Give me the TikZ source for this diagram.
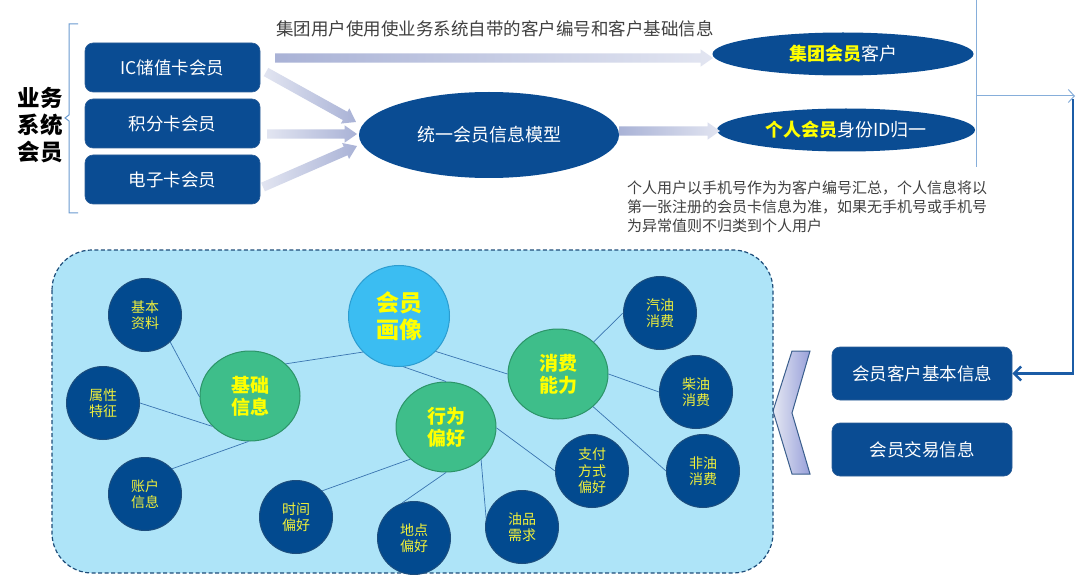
\documentclass[tikz,border=0pt]{standalone}
\usepackage{fontspec}
\setmainfont{Noto Sans CJK SC}
\usetikzlibrary{shapes.geometric,shapes.arrows,calc,arrows.meta}
\definecolor{boxblue}{HTML}{0A4C93}
\definecolor{boxedge}{HTML}{2D5E98}
\definecolor{circblue}{HTML}{024A8F}
\definecolor{circedge}{HTML}{1D4E7E}
\definecolor{skyfill}{HTML}{AEE4F8}
\definecolor{skyedge}{HTML}{1E4D7A}
\definecolor{bigcirc}{HTML}{3BBDF2}
\definecolor{bigcircedge}{HTML}{2C9DD0}
\definecolor{greenc}{HTML}{3EBE8A}
\definecolor{greenedge}{HTML}{2C9468}
\definecolor{ylw}{HTML}{FFFF00}
\definecolor{ylwsoft}{HTML}{F0F03A}
\definecolor{linkblue}{HTML}{3A74B0}
\definecolor{thinblue}{HTML}{86AEDA}
\definecolor{thickblue}{HTML}{1B5CA6}
\definecolor{bracecol}{HTML}{6A9BD0}
\definecolor{lavdark}{HTML}{A9B2D6}
\definecolor{lavlight}{HTML}{E2E5F1}
\definecolor{graytext}{HTML}{404040}
\definecolor{chevedge}{HTML}{3A5E8C}
\newcommand\myblockarrow[4]{%
  \path let \p1=($(#2)-(#1)$), \n1={atan2(\y1,\x1)}, \n2={veclen(\x1,\y1)} in
    (#1) node[blockarr, rotate=\n1, minimum height=\n2, anchor=tail, left color=#3, right color=#4] {};}
\begin{document}
\begin{tikzpicture}[x=1pt,y=-1pt,
  memberbox/.style={draw=boxedge, line width=0.6pt, fill=boxblue, rounded corners=8pt,
    minimum width=175pt, minimum height=49pt, inner sep=0pt, text=white,
    font=\fontsize{17.5}{20}\selectfont},
  infobox/.style={memberbox, minimum width=180pt, minimum height=53pt},
  blueell/.style={ellipse, fill=boxblue, draw=none, inner sep=0pt, text=white,
    font=\fontsize{18}{21}\selectfont},
  blockarr/.style={single arrow, draw=none, inner sep=4.5pt, outer sep=0pt,
    single arrow head extend=4pt, single arrow tip angle=70, minimum width=0pt},
  smallc/.style={circle, fill=circblue, draw=circedge, line width=1pt, minimum size=73pt,
    inner sep=0pt, align=center, text=ylwsoft, font=\fontsize{14}{16.5}\selectfont},
  greenell/.style={ellipse, fill=greenc, draw=greenedge, line width=1pt, minimum width=100pt,
    minimum height=90pt, inner sep=0pt, align=center, text=ylw,
    font=\bfseries\fontsize{19}{22}\selectfont},
  bigcircle/.style={circle, fill=bigcirc, draw=bigcircedge, line width=1pt, minimum size=101pt,
    inner sep=0pt, align=center, text=ylw, font=\bfseries\fontsize{23}{27}\selectfont},
  link/.style={draw=linkblue, line width=0.7pt},
  thinline/.style={draw=thinblue, line width=1pt},
  thickline/.style={draw=thickblue, line width=2.6pt}
]
\useasboundingbox (0,0) rectangle (1080,575);
\fill[white] (0,0) rectangle (1080,575);

% left label and brace
\node[font=\bfseries\fontsize{22.5}{27}\selectfont, align=center, text=black] (lbl) at (40,125) {业务\\系统\\会员};
\draw[draw=bracecol, line width=1pt] (78,24) -- (69,24) -- (69,115) -- (65,118) -- (69,121) -- (69,213) -- (78,213);

% member boxes
\node[memberbox] (ic) at (172.5,67.5) {IC储值卡会员};
\node[memberbox] (jf) at (172.5,123.5) {积分卡会员};
\node[memberbox] (dz) at (172.5,179.5) {电子卡会员};

% ellipses
\node[blueell, minimum width=260pt, minimum height=86pt] (model) at (489,135) {统一会员信息模型};
\node[blueell, minimum width=261pt, minimum height=43pt] (group) at (843,54) {{\bfseries\color{ylw}集团会员}客户};
\node[blueell, minimum width=258pt, minimum height=43pt] (person) at (846,130) {{\bfseries\color{ylw}个人会员}身份ID归一};

% top text
\node[text=graytext, font=\fontsize{17.5}{20}\selectfont] (toptext) at (495,29) {集团用户使用使业务系统自带的客户编号和客户基础信息};

% block arrows
\coordinate (a1s) at (275,58);  \coordinate (a1e) at (713,58);
\coordinate (a2s) at (266,72);  \coordinate (a2e) at (356,122);
\coordinate (a3s) at (267,134); \coordinate (a3e) at (357,134);
\coordinate (a4s) at (263,187); \coordinate (a4e) at (357,146);
\coordinate (a5s) at (619,131); \coordinate (a5e) at (720,131);
\myblockarrow{a1s}{a1e}{lavdark}{lavlight}
\myblockarrow{a2s}{a2e}{lavlight}{lavdark}
\myblockarrow{a3s}{a3e}{lavlight}{lavdark}
\myblockarrow{a4s}{a4e}{lavlight}{lavdark}
\myblockarrow{a5s}{a5e}{lavdark}{lavlight}

% note text
\node[anchor=north west, align=left, text=graytext, font=\fontsize{15}{19}\selectfont, inner sep=0pt] (note) at (627,181)
  {个人用户以手机号作为为客户编号汇总，个人信息将以\\第一张注册的会员卡信息为准，如果无手机号或手机号\\为异常值则不归类到个人用户};

% right side connectors
\coordinate (vtop) at (976,0); \coordinate (vbot) at (976,167);
\draw[thinline] (vtop) -- (vbot);
\coordinate (hs) at (976,96); \coordinate (he) at (1075,96);
\draw[thinline, -{Straight Barb[length=6pt,width=13pt,line width=1pt]}] (hs) -- (he);

% info boxes
\node[infobox] (mb1) at (922,373.5) {会员客户基本信息};
\node[infobox] (mb2) at (922,449.5) {会员交易信息};
\coordinate (ts) at (1073,99);
\draw[thickline, -{Straight Barb[length=7pt,width=14pt,line width=2.6pt]}] (ts) |- (mb1.east);

% chevron
\path[left color=lavlight!90!white, right color=lavdark!90!blue, draw=chevedge, line width=1pt]
  (810,351) -- (792,351) -- (773,411) -- (792,474) -- (810,474) -- (792,413) -- cycle;

% bubble background
\draw[fill=skyfill, draw=skyedge, line width=1.2pt, dash pattern=on 4pt off 2.5pt, rounded corners=40pt]
  (52,250) rectangle (773,573);

% bubble nodes
\node[bigcircle] (hx) at (399,316) {会员\\画像};
\node[greenell] (jc) at (250,396) {基础\\信息};
\node[greenell] (xw) at (446,427) {行为\\偏好};
\node[greenell] (xf) at (558,374) {消费\\能力};
\node[smallc] (jb) at (145,315) {基本\\资料};
\node[smallc] (sx) at (103,403) {属性\\特征};
\node[smallc] (zh) at (145,494) {账户\\信息};
\node[smallc] (sj) at (296,517) {时间\\偏好};
\node[smallc] (dd) at (414,538) {地点\\偏好};
\node[smallc] (yp) at (522,527) {油品\\需求};
\node[smallc] (zf) at (592,471) {支付\\方式\\偏好};
\node[smallc] (qy) at (660,313) {汽油\\消费};
\node[smallc] (cy) at (696,392) {柴油\\消费};
\node[smallc] (fy) at (703,471) {非油\\消费};

% links
\draw[link] (jc.42) -- (hx.225);
\draw[link] (jb.313) -- (jc.181);
\draw[link] (sx.0) -- (jc.219);
\draw[link] (zh.43) -- (jc.268);
\draw[link] (hx.275) -- (xw.90);
\draw[link] (hx.316) -- (xf.180);
\draw[link] (sj.45) -- (xw.222);
\draw[link] (dd.109) -- (xw.270);
\draw[link] (xw.317) -- (yp.166);
\draw[link] (xw.359) -- (zf.180);
\draw[link] (xf.42) -- (qy.180);
\draw[link] (xf.0) -- (cy.180);
\draw[link] (xf.317) -- (fy.180);
\end{tikzpicture}
\end{document}
